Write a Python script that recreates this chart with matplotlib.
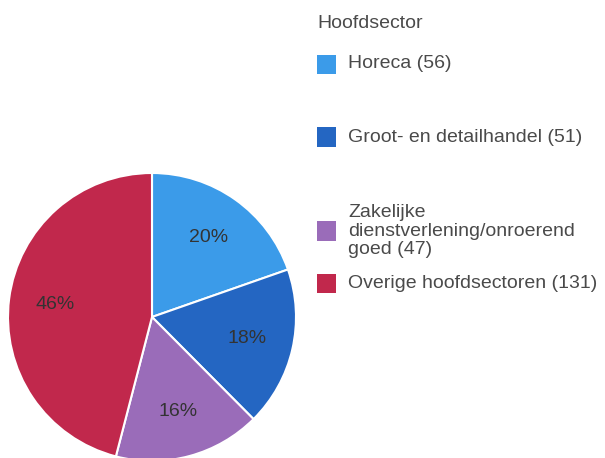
import matplotlib
matplotlib.use("Agg")
import matplotlib.pyplot as plt
from matplotlib.patches import Rectangle

plt.rcParams['font.family'] = ['Liberation Sans', 'DejaVu Sans']

legend_title = "Hoofdsector"
categories = ["Horeca", "Groot- en detailhandel",
              "Zakelijke\ndienstverlening/onroerend\ngoed", "Overige hoofdsectoren"]
values = [56, 51, 47, 131]
colors = ["#3b9be9", "#2466c2", "#9a6cb9", "#c1284c"]

W, H = 605, 458
fig = plt.figure(figsize=(W / 100, H / 100), dpi=100)

# pie axes: center (152, 317) px, radius 144 px
cx, cy, r = 152, 317, 144
ax = fig.add_axes([(cx - r) / W, (H - cy - r) / H, 2 * r / W, 2 * r / H])
ax.axis('off')
wedges, texts, autotexts = ax.pie(
    values, colors=colors, startangle=90, counterclock=False,
    radius=1, autopct=lambda p: f"{p:.0f}%", pctdistance=0.68,
    wedgeprops=dict(edgecolor='white', linewidth=1.5),
    textprops=dict(color='#333333', fontsize=14))
ax.set_aspect('equal')
ax.set_xlim(-1, 1)
ax.set_ylim(-1, 1)

def px(x, y):
    return x / W, 1 - y / H

fig.text(*px(317, 23), legend_title, fontsize=14, color='#4a4a4a', va='center', ha='left')

sq_y = [64, 137, 231, 283]
for cat, val, col, y in zip(categories, values, colors, sq_y):
    x0, y0 = px(317, y + 9.5)
    fig.patches.append(Rectangle((x0, y0), 19 / W, 19 / H, transform=fig.transFigure,
                                 facecolor=col, edgecolor='none'))
    fig.text(*px(348, y), f"{cat} ({val})", fontsize=14, color='#4a4a4a',
             va='center', ha='left', linespacing=1.1)

fig.savefig("out.png", dpi=100)
